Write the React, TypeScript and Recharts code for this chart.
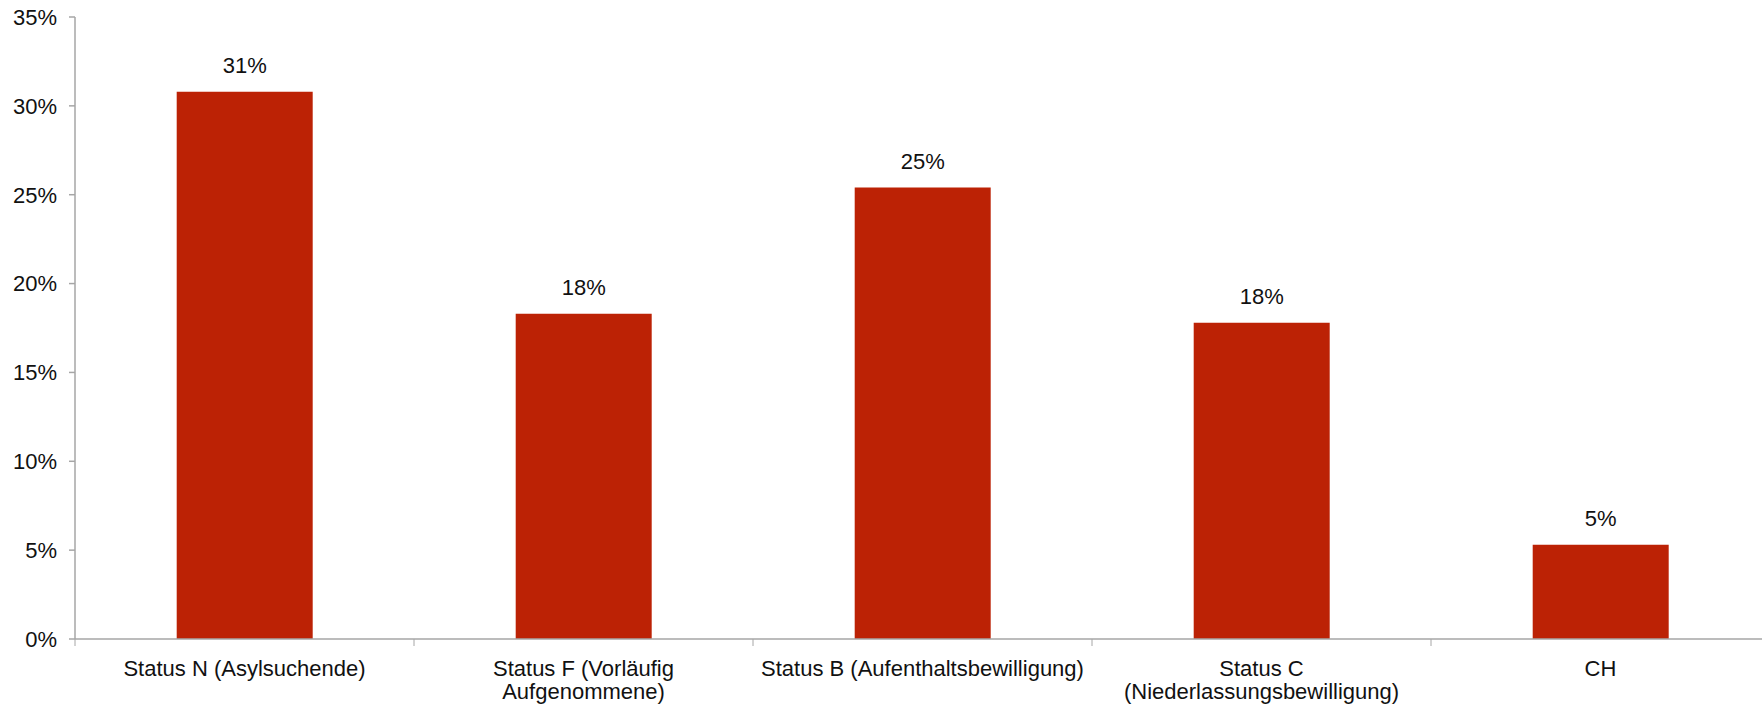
import { BarChart, Bar, XAxis, YAxis, LabelList } from 'recharts';

const categories = [
  'Status N (Asylsuchende)',
  'Status F (Vorläufig\nAufgenommene)',
  'Status B (Aufenthaltsbewilligung)',
  'Status C\n(Niederlassungsbewilligung)',
  'CH',
];
const shares = [30.8, 18.3, 25.4, 17.8, 5.3];
const yTicks = [0, 5, 10, 15, 20, 25, 30, 35];

const data = categories.map((name, i) => ({ name, share: shares[i] }));

const CHART_W = 1770;
const CHART_H = 706;
const Y_AXIS_W = 75;
const AXIS_GREY = '#a6a6a6';
const FONT = '"Liberation Sans", Arial, sans-serif';
const FONT_SIZE = 22;

function CategoryTick(props: any) {
  const { x, y, payload, index, visibleTicksCount } = props;
  const band = (CHART_W - Y_AXIS_W) / (visibleTicksCount || categories.length);
  const axisY = y - 8;
  const lines = String(payload.value).split('\n');
  return (
    <g>
      {index === 0 && (
        <line x1={x - band / 2} x2={x - band / 2} y1={axisY} y2={axisY + 7} stroke={AXIS_GREY} />
      )}
      <line x1={x + band / 2} x2={x + band / 2} y1={axisY} y2={axisY + 7} stroke={AXIS_GREY} />
      <text x={x} y={y + 29} textAnchor="middle" fill="#111" fontSize={FONT_SIZE} fontFamily={FONT}>
        {lines.map((l, i) => (
          <tspan key={i} x={x} dy={i === 0 ? 0 : 23}>
            {l}
          </tspan>
        ))}
      </text>
    </g>
  );
}

export default function App() {
  return (
    <div style={{ position: 'absolute', left: 0, top: 0, width: 1762, height: 706, overflow: 'hidden', background: '#fff' }}>
      <BarChart
        width={CHART_W}
        height={CHART_H}
        data={data}
        margin={{ top: 17, right: 0, bottom: 0, left: 0 }}
        barCategoryGap="30%"
      >
        <XAxis
          dataKey="name"
          height={67}
          interval={0}
          tickLine={false}
          axisLine={{ stroke: AXIS_GREY, strokeWidth: 1.5 }}
          tick={<CategoryTick />}
        />
        <YAxis
          width={Y_AXIS_W}
          domain={[0, 35]}
          ticks={yTicks}
          interval={0}
          tickFormatter={(v: number) => `${v}%`}
          axisLine={{ stroke: AXIS_GREY, strokeWidth: 1.5 }}
          tickLine={{ stroke: AXIS_GREY, strokeWidth: 1.5 }}
          tickSize={6}
          tickMargin={12}
          tick={{ fill: '#111', fontSize: FONT_SIZE, fontFamily: FONT }}
        />
        <Bar dataKey="share" fill="#bc2205" isAnimationActive={false}>
          <LabelList
            dataKey="share"
            position="top"
            offset={19}
            formatter={(v: any) => `${Math.round(Number(v))}%`}
            style={{ fill: '#111', fontSize: FONT_SIZE, fontFamily: FONT }}
          />
        </Bar>
      </BarChart>
    </div>
  );
}
